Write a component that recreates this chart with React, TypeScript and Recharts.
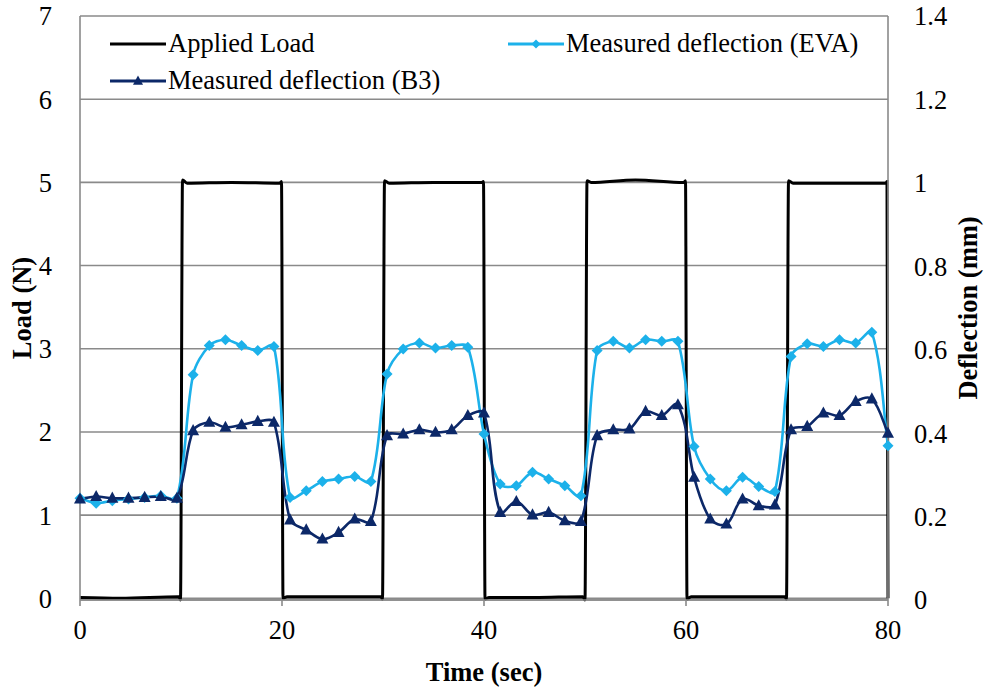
import { ComposedChart, Line, XAxis, YAxis, CartesianGrid } from "recharts";

// measured deflection, sampled every 1.6 s
const time = [
  0, 1.6, 3.2, 4.8, 6.4, 8, 9.6, 11.2, 12.8, 14.4, 16, 17.6, 19.2, 20.8, 22.4, 24, 25.6,
  27.2, 28.8, 30.4, 32, 33.6, 35.2, 36.8, 38.4, 40, 41.6, 43.2, 44.8, 46.4, 48, 49.6, 51.2,
  52.8, 54.4, 56, 57.6, 59.2, 60.8, 62.4, 64, 65.6, 67.2, 68.8, 70.4, 72, 73.6, 75.2, 76.8,
  78.4, 80,
];
const deflectionEVA = [
  0.244, 0.232, 0.238, 0.242, 0.246, 0.25, 0.244, 0.54, 0.61, 0.624, 0.61, 0.598, 0.608,
  0.246, 0.262, 0.284, 0.29, 0.296, 0.284, 0.542, 0.602, 0.616, 0.604, 0.61, 0.606, 0.398,
  0.278, 0.274, 0.306, 0.29, 0.274, 0.25, 0.598, 0.62, 0.604, 0.624, 0.62, 0.62, 0.368,
  0.29, 0.262, 0.294, 0.272, 0.26, 0.584, 0.614, 0.608, 0.624, 0.616, 0.642, 0.37,
];
const deflectionB3 = [
  0.242, 0.248, 0.244, 0.244, 0.246, 0.248, 0.244, 0.406, 0.426, 0.414, 0.42, 0.428, 0.426,
  0.192, 0.168, 0.146, 0.162, 0.194, 0.188, 0.394, 0.398, 0.408, 0.402, 0.408, 0.442, 0.448,
  0.21, 0.236, 0.204, 0.21, 0.19, 0.188, 0.394, 0.408, 0.41, 0.452, 0.442, 0.468, 0.294,
  0.194, 0.182, 0.242, 0.226, 0.228, 0.408, 0.416, 0.448, 0.442, 0.476, 0.482, 0.4,
];

// applied load square wave
const loadTime = [
  0, 4, 9.8, 9.95, 10.15, 10.6, 15, 19.8, 19.95, 20.1, 20.5, 25, 29.8, 29.95, 30.15, 30.6,
  35, 39.8, 39.95, 40.1, 40.5, 45, 49.8, 50, 50.2, 50.6, 55, 59.8, 59.95, 60.1, 60.5, 65,
  69.8, 69.95, 70.15, 70.6, 75, 79.8, 79.9, 80,
];
const loadValue = [
  0.01, 0, 0.02, -0.02, 5.03, 4.99, 5.0, 4.99, 5.01, 0, 0.02, 0.02, 0.02, -0.01, 5.02, 4.99,
  5.0, 5.0, 5.01, -0.01, 0.01, 0.01, 0.02, -0.02, 5.02, 5.0, 5.03, 5.0, 5.02, -0.01, 0.02,
  0.02, 0.02, -0.01, 5.02, 4.99, 4.99, 4.99, 5.01, 0,
];

const xTicks = [0, 20, 40, 60, 80];
const loadTicks = [0, 1, 2, 3, 4, 5, 6, 7];
const deflTicks = [0, 0.2, 0.4, 0.6, 0.8, 1, 1.2, 1.4];

const LOAD_COLOR = "#000000";
const EVA_COLOR = "#1cb1ea";
const B3_COLOR = "#0c2868";
const GRID = "#8a8a8a";
const FONT = "'Liberation Serif', 'Times New Roman', serif";
const FS = 26.5;

const deflData = time.map((t, i) => ({ t, eva: deflectionEVA[i], b3: deflectionB3[i] }));
const loadData = loadTime.map((t, i) => ({ t, load: loadValue[i] }));

// excel-like smoothing: tangent from neighbours, handle length tied to the segment length
function excelCurve(context: any) {
  let pts: number[][] = [];
  const handle = (a: number[], b: number[], len: number) => {
    const dx = b[0] - a[0];
    const dy = b[1] - a[1];
    const d = Math.hypot(dx, dy) || 1;
    return [(dx / d) * len, (dy / d) * len];
  };
  return {
    areaStart() {},
    areaEnd() {},
    lineStart() {
      pts = [];
    },
    lineEnd() {
      const n = pts.length;
      if (!n) return;
      context.moveTo(pts[0][0], pts[0][1]);
      for (let i = 0; i < n - 1; i++) {
        const p0 = pts[Math.max(i - 1, 0)];
        const p1 = pts[i];
        const p2 = pts[i + 1];
        const p3 = pts[Math.min(i + 2, n - 1)];
        const seg = Math.hypot(p2[0] - p1[0], p2[1] - p1[1]) * 0.3;
        const h1 = handle(p0, p2, seg);
        const h2 = handle(p1, p3, seg);
        context.bezierCurveTo(p1[0] + h1[0], p1[1] + h1[1], p2[0] - h2[0], p2[1] - h2[1], p2[0], p2[1]);
      }
    },
    point(x: number, y: number) {
      pts.push([+x, +y]);
    },
  };
}

const diamondPath = (cx: number, cy: number, r: number) =>
  `M${cx},${cy - r}L${cx + r},${cy}L${cx},${cy + r}L${cx - r},${cy}Z`;
const trianglePath = (cx: number, cy: number, r: number) =>
  `M${cx},${cy - r * 1.1}L${cx + r},${cy + r * 0.75}L${cx - r},${cy + r * 0.75}Z`;

const DiamondDot = (props: any) => {
  const { cx, cy, index } = props;
  if (cx == null || cy == null) return <g key={index} />;
  return <path key={index} d={diamondPath(cx, cy, 5.5)} fill={EVA_COLOR} />;
};
const TriangleDot = (props: any) => {
  const { cx, cy, index } = props;
  if (cx == null || cy == null) return <g key={index} />;
  return <path key={index} d={trianglePath(cx, cy, 6)} fill={B3_COLOR} />;
};

const legendItems = [
  { name: "Applied Load", color: LOAD_COLOR, marker: "none", left: 110, top: 28 },
  { name: "Measured deflection (EVA)", color: EVA_COLOR, marker: "diamond", left: 508, top: 28 },
  { name: "Measured deflection (B3)", color: B3_COLOR, marker: "triangle", left: 110, top: 65 },
];

const tickStyle = { fontFamily: FONT, fontSize: FS, fill: "#000" };

const titleStyle = { fontFamily: FONT, fontSize: FS, fontWeight: "bold" as const };

export default function App() {
  return (
    <div style={{ position: "absolute", left: 0, top: 0, width: 988, height: 691, background: "#fff" }}>
      <ComposedChart width={988} height={691} margin={{ top: 16, right: 0, bottom: 0, left: 0 }}>
        <CartesianGrid yAxisId="load" vertical={false} stroke={GRID} strokeWidth={1.6} />
        <XAxis
          dataKey="t"
          type="number"
          domain={[0, 80]}
          ticks={xTicks}
          allowDuplicatedCategory={false}
          height={91}
          tickSize={6}
          tickMargin={14}
          stroke={GRID}
          axisLine={{ stroke: GRID, strokeWidth: 1.6 }}
          tickLine={{ stroke: GRID, strokeWidth: 1.6 }}
          tick={tickStyle}
          label={{
            content: (p: any) => {
              const vb = p.viewBox;
              return (
                <text x={vb.x + vb.width / 2} y={672} textAnchor="middle" dominantBaseline="central" style={titleStyle}>
                  Time (sec)
                </text>
              );
            },
          }}
        />
        <YAxis
          yAxisId="load"
          domain={[0, 7]}
          ticks={loadTicks}
          width={80}
          tickSize={0}
          tickMargin={28}
          tickLine={false}
          axisLine={{ stroke: GRID, strokeWidth: 1.6 }}
          tick={tickStyle}
          label={{
            content: (p: any) => {
              const vb = p.viewBox;
              const x = 22;
              const y = vb.y + vb.height / 2;
              return (
                <text x={x} y={y} transform={`rotate(-90 ${x} ${y})`} textAnchor="middle" dominantBaseline="central" style={titleStyle}>
                  Load (N)
                </text>
              );
            },
          }}
        />
        <YAxis
          yAxisId="defl"
          orientation="right"
          domain={[0, 1.4]}
          ticks={deflTicks}
          width={100}
          tickSize={0}
          tickMargin={26}
          tickLine={false}
          axisLine={{ stroke: GRID, strokeWidth: 1.6 }}
          tick={tickStyle}
          label={{
            content: (p: any) => {
              const vb = p.viewBox;
              const x = 968;
              const y = vb.y + vb.height / 2;
              return (
                <text x={x} y={y} transform={`rotate(-90 ${x} ${y})`} textAnchor="middle" dominantBaseline="central" style={titleStyle}>
                  Deflection (mm)
                </text>
              );
            },
          }}
        />
        <Line
          yAxisId="load"
          data={loadData}
          dataKey="load"
          type="monotone"
          stroke={LOAD_COLOR}
          strokeWidth={3}
          dot={false}
          isAnimationActive={false}
        />
        <Line
          yAxisId="defl"
          data={deflData}
          dataKey="eva"
          type={excelCurve as any}
          stroke={EVA_COLOR}
          strokeWidth={2.6}
          dot={DiamondDot}
          activeDot={false}
          isAnimationActive={false}
        />
        <Line
          yAxisId="defl"
          data={deflData}
          dataKey="b3"
          type={excelCurve as any}
          stroke={B3_COLOR}
          strokeWidth={2.6}
          dot={TriangleDot}
          activeDot={false}
          isAnimationActive={false}
        />
      </ComposedChart>
      {legendItems.map((it) => (
        <div
          key={it.name}
          style={{
            position: "absolute",
            left: it.left,
            top: it.top,
            display: "flex",
            alignItems: "center",
            fontFamily: FONT,
            fontSize: FS,
            whiteSpace: "nowrap",
          }}
        >
          <svg width={56} height={30} style={{ marginRight: 2 }}>
            <line x1={0} x2={56} y1={15} y2={15} stroke={it.color} strokeWidth={3} />
            {it.marker === "diamond" && <path d={diamondPath(28, 15, 4.5)} fill={it.color} />}
            {it.marker === "triangle" && <path d={trianglePath(28, 15, 5)} fill={it.color} />}
          </svg>
          <span>{it.name}</span>
        </div>
      ))}
    </div>
  );
}
